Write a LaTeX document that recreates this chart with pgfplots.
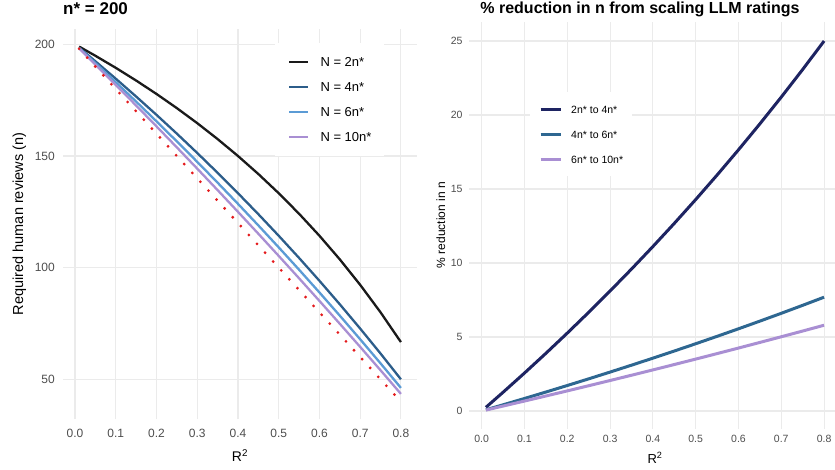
\documentclass[border=0pt]{standalone}
\usepackage{fontspec}
\setmainfont{Liberation Sans}
\usepackage{pgfplots}
\pgfplotsset{compat=1.18}
\definecolor{gridc}{HTML}{EBEBEB}
\definecolor{tickc}{HTML}{4D4D4D}
\definecolor{cA}{HTML}{1A1A1A}
\definecolor{cB}{HTML}{2C5D8A}
\definecolor{cC}{HTML}{5B9BD5}
\definecolor{cD}{HTML}{A98FD3}
\definecolor{cR}{HTML}{E41A1C}
\definecolor{cN}{HTML}{1E2462}
\definecolor{cM}{HTML}{2E6791}
\pgfplotsset{
  gg/.style={
    scale only axis,
    axis line style={draw=none},
    major tick length=0pt, minor tick length=0pt,
    grid=major, major grid style={gridc, line width=1.1pt},
    /pgf/number format/assume math mode=true,
    xmin=-0.0295, xmax=0.8395,
    xtick={0,0.1,0.2,0.3,0.4,0.5,0.6,0.7,0.8},
    xticklabels={0.0,0.1,0.2,0.3,0.4,0.5,0.6,0.7,0.8},
    legend cell align=left,
  }
}
\begin{document}
\begin{tikzpicture}[x=1pt,y=1pt]
\path[use as bounding box] (0,0) rectangle (835,469);
% ---------------- left panel ----------------
\begin{axis}[gg,
  at={(63pt,49.6pt)}, anchor=south west,
  width=354pt, height=390.6pt,
  ymin=32.05, ymax=206.95,
  ytick={50,100,150,200},
  xticklabel style={font=\fontsize{12}{12}\selectfont, color=tickc, anchor=base, inner sep=0pt, yshift=-17.9pt},
  yticklabel style={font=\fontsize{12}{12}\selectfont, color=tickc, anchor=east, inner sep=0pt, xshift=-8pt},
  legend image code/.code={\draw[#1, line cap=butt] (0pt,0pt) -- (19pt,0pt);},
  legend style={at={(rel axis cs:0.5989,0.9636)}, anchor=north west, fill=white, draw=none,
    inner xsep=13pt, inner ysep=14pt, row sep=15.6pt, column sep=11pt,
    font=\fontsize{13}{13}\selectfont,
    nodes={inner sep=0pt, text height=9.4pt, text depth=0pt}},
]
\addplot[cA, line width=2.3pt] coordinates {(0.01,198.995) (0.05,194.872) (0.10,189.474) (0.15,183.784) (0.20,177.778) (0.25,171.429) (0.30,164.706) (0.35,157.576) (0.40,150.000) (0.45,141.935) (0.50,133.333) (0.55,124.138) (0.60,114.286) (0.65,103.704) (0.70,92.308) (0.75,80.000) (0.80,66.667)};
\addlegendentry{N = 2n*}
\addplot[cB, line width=2.3pt] coordinates {(0.01,198.496) (0.05,192.405) (0.10,184.615) (0.15,176.623) (0.20,168.421) (0.25,160.000) (0.30,151.351) (0.35,142.466) (0.40,133.333) (0.45,123.944) (0.50,114.286) (0.55,104.348) (0.60,94.118) (0.65,83.582) (0.70,72.727) (0.75,61.538) (0.80,50.000)};
\addlegendentry{N = 4n*}
\addplot[cC, line width=2.3pt] coordinates {(0.01,198.331) (0.05,191.597) (0.10,183.051) (0.15,174.359) (0.20,165.517) (0.25,156.522) (0.30,147.368) (0.35,138.053) (0.40,128.571) (0.45,118.919) (0.50,109.091) (0.55,99.083) (0.60,88.889) (0.65,78.505) (0.70,67.925) (0.75,57.143) (0.80,46.154)};
\addlegendentry{N = 6n*}
\addplot[cD, line width=2.3pt] coordinates {(0.01,198.198) (0.05,190.955) (0.10,181.818) (0.15,172.589) (0.20,163.265) (0.25,153.846) (0.30,144.330) (0.35,134.715) (0.40,125.000) (0.45,115.183) (0.50,105.263) (0.55,95.238) (0.60,85.106) (0.65,74.866) (0.70,64.516) (0.75,54.054) (0.80,43.478)};
\addlegendentry{N = 10n*}
\addplot[cR, line width=3.1pt, line cap=round, dash pattern=on 0pt off 12pt, forget plot] coordinates {(0.01,198) (0.80,40)};
\end{axis}
% ---------------- right panel ----------------
\begin{axis}[gg,
  at={(469pt,40.5pt)}, anchor=south west,
  width=372pt, height=406pt,
  ymin=-1.18, ymax=26.25,
  ytick={0,5,10,15,20,25},
  xticklabel style={font=\fontsize{10.5}{10.5}\selectfont, color=tickc, anchor=base, inner sep=0pt, yshift=-14.1pt},
  yticklabel style={font=\fontsize{10.5}{10.5}\selectfont, color=tickc, anchor=east, inner sep=0pt, xshift=-6.3pt},
  legend image code/.code={\draw[#1, line cap=butt] (0pt,0pt) -- (20pt,0pt);},
  legend style={at={(rel axis cs:0.164,0.8288)}, anchor=north west, fill=white, draw=none,
    inner xsep=9pt, inner ysep=13.2pt, row sep=17.4pt, column sep=9pt,
    font=\fontsize{10.5}{10.5}\selectfont,
    nodes={inner sep=0pt, text height=7.6pt, text depth=0pt}},
]
\addplot[cN, line width=3pt] coordinates {(0.01,0.2506) (0.05,1.2658) (0.10,2.5641) (0.15,3.8961) (0.20,5.2632) (0.25,6.6667) (0.30,8.1081) (0.35,9.5890) (0.40,11.1111) (0.45,12.6761) (0.50,14.2857) (0.55,15.9420) (0.60,17.6471) (0.65,19.4030) (0.70,21.2121) (0.75,23.0769) (0.80,25.0000)};
\addlegendentry{2n* to 4n*}
\addplot[cM, line width=3pt] coordinates {(0.01,0.0835) (0.05,0.4202) (0.10,0.8475) (0.15,1.2821) (0.20,1.7241) (0.25,2.1739) (0.30,2.6316) (0.35,3.0973) (0.40,3.5714) (0.45,4.0541) (0.50,4.5455) (0.55,5.0459) (0.60,5.5556) (0.65,6.0748) (0.70,6.6038) (0.75,7.1429) (0.80,7.6923)};
\addlegendentry{4n* to 6n*}
\addplot[cD, line width=3pt] coordinates {(0.01,0.0667) (0.05,0.3350) (0.10,0.6734) (0.15,1.0152) (0.20,1.3605) (0.25,1.7094) (0.30,2.0619) (0.35,2.4180) (0.40,2.7778) (0.45,3.1414) (0.50,3.5088) (0.55,3.8801) (0.60,4.2553) (0.65,4.6346) (0.70,5.0179) (0.75,5.4054) (0.80,5.7971)};
\addlegendentry{6n* to 10n*}
\end{axis}
% ---------------- titles and axis labels ----------------
\node[anchor=base west, inner sep=0pt, font=\bfseries\fontsize{17}{17}\selectfont] at (63,454) {n* = 200};
\node[anchor=base, inner sep=0pt, font=\bfseries\fontsize{16}{16}\selectfont] at (640,455.5) {\% reduction in n from scaling LLM ratings};
\node[anchor=base, inner sep=0pt, font=\fontsize{14}{14}\selectfont] at (240,7.5) {R\textsuperscript{2}};
\node[anchor=base, inner sep=0pt, font=\fontsize{13}{13}\selectfont] at (655,6) {R\textsuperscript{2}};
\node[rotate=90, anchor=base, inner sep=0pt, font=\fontsize{14.5}{14.5}\selectfont] at (23,245) {Required human reviews (n)};
\node[rotate=90, anchor=base, inner sep=0pt, font=\fontsize{12}{12}\selectfont] at (445,244) {\% reduction in n};
\end{tikzpicture}
\end{document}
